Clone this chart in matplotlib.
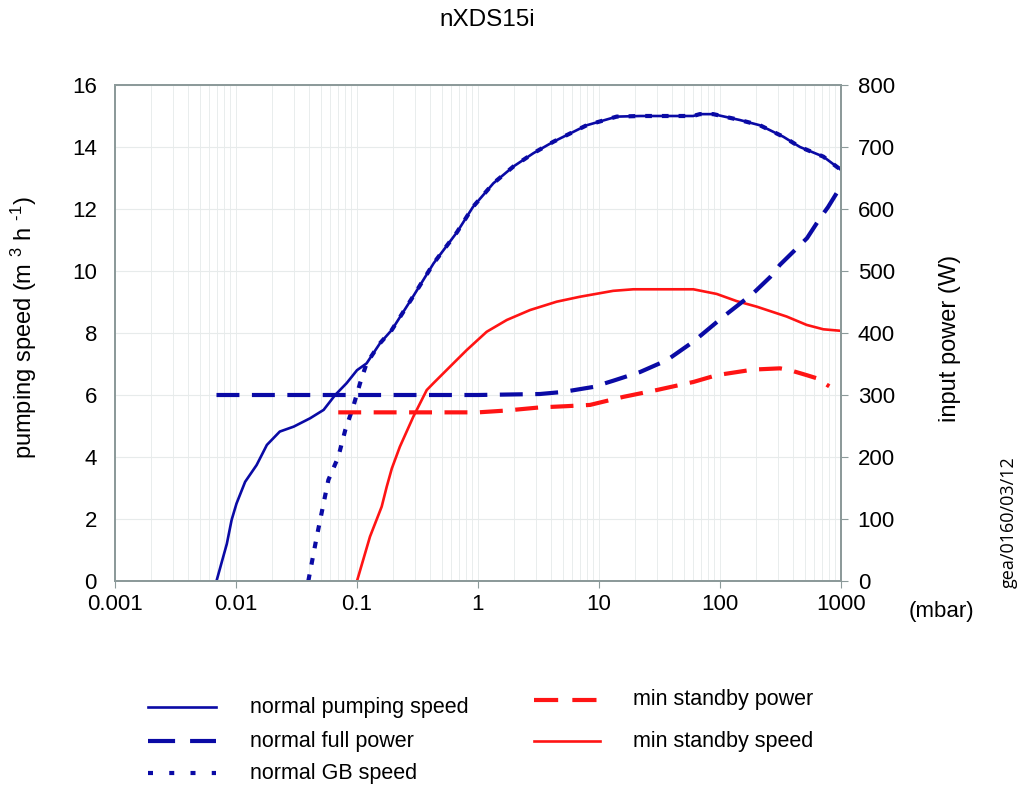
import numpy as np
import matplotlib
matplotlib.use('Agg')
import matplotlib.pyplot as plt

plt.rcParams['font.family'] = ['Liberation Sans', 'DejaVu Sans']
plt.rcParams['mathtext.fontset'] = 'custom'
plt.rcParams['mathtext.rm'] = 'Liberation Sans'
plt.rcParams['mathtext.it'] = 'Liberation Sans'

# Данные (давление в mbar)
p_speed = [0.0069, 0.0084, 0.0092, 0.0101, 0.0119, 0.0148, 0.018, 0.023, 0.03, 0.041,
           0.053, 0.066, 0.082, 0.1, 0.12, 0.155, 0.194, 0.29, 0.43, 0.67, 0.91, 1.34,
           1.96, 2.87, 4.2, 7.9, 14, 22, 60, 68, 88, 146, 214, 334, 458, 714, 1000]
normal_speed = [0, 1.2, 1.97, 2.5, 3.2, 3.74, 4.39, 4.82, 4.98, 5.25,
                5.52, 6.0, 6.38, 6.8, 7.02, 7.67, 8.1, 9.17, 10.25, 11.25, 12.07, 12.83,
                13.37, 13.8, 14.17, 14.7, 14.98, 15.0, 15.0, 15.06, 15.06, 14.87, 14.7, 14.33, 14.0, 13.69, 13.26]

p_gb = [0.0396, 0.0465, 0.058, 0.07, 0.08, 0.093, 0.106, 0.12, 0.155, 0.194, 0.29, 0.43,
        0.67, 0.91, 1.34, 1.96, 2.87, 4.2, 7.9, 14, 22, 60, 68, 88, 146, 214, 334, 458, 714, 1000]
gb_speed = [0, 1.43, 3.26, 4.0, 4.87, 5.62, 6.38, 7.02, 7.67, 8.1, 9.17, 10.25,
            11.25, 12.07, 12.83, 13.37, 13.8, 14.17, 14.7, 14.98, 15.0, 15.0, 15.06, 15.06,
            14.87, 14.7, 14.33, 14.0, 13.69, 13.26]

p_full = [0.0069, 1.0, 3.25, 5.07, 8.97, 13.1, 21.8, 36.3, 60.2, 106, 188, 259, 313, 433, 524, 670, 781, 1000]
full_power = [300, 300, 301.6, 305, 313, 323, 337, 356, 386, 426, 464, 490, 510, 537, 553, 585, 603, 637]

p_sb_power = [0.07, 0.5, 1.0, 1.73, 3.25, 5.41, 8.43, 15.9, 30, 60.2, 94, 188, 313, 379, 521, 630, 800]
sb_power = [272, 272, 272, 275, 280, 282, 284, 297, 308, 321, 332, 341, 343, 340, 332, 327, 314]

p_sb_speed = [0.1, 0.128, 0.16, 0.176, 0.194, 0.226, 0.292, 0.377, 0.428, 0.625, 0.807, 1.18,
              1.73, 2.69, 4.47, 6.97, 13.1, 19.2, 60.2, 93.9, 137, 201, 356, 521, 714, 1000]
sb_speed = [0, 1.43, 2.4, 3.04, 3.63, 4.33, 5.3, 6.16, 6.38, 7.02, 7.45, 8.04,
            8.42, 8.74, 9.01, 9.17, 9.36, 9.41, 9.41, 9.26, 9.03, 8.85, 8.53, 8.26, 8.12, 8.07]

x_ticks = [0.001, 0.01, 0.1, 1, 10, 100, 1000]
x_labels = ['0.001', '0.01', '0.1', '1', '10', '100', '1000']

blue = '#0a0aa5'
red = '#ff1414'
gray = '#8c9a9a'

W, H = 1018, 788
fig = plt.figure(figsize=(W / 100, H / 100), dpi=100)
ax = fig.add_axes([115 / W, 1 - 581 / H, 726 / W, 496 / H])
ax2 = ax.twinx()

# Стили линий
st_speed = dict(color=blue, lw=1.9, ls='-')
st_full = dict(color=blue, lw=3.0, ls=(0, (5.5, 3.0)))
st_gb = dict(color=blue, lw=3.0, ls=(0, (1.6, 2.4)))
st_sbp = dict(color=red, lw=3.0, ls=(0, (5.5, 3.0)))
st_sbs = dict(color=red, lw=1.9, ls='-')

ax.plot(p_speed, normal_speed, **st_speed)
ax.plot(p_gb, gb_speed, **st_gb)
ax.plot(p_sb_speed, sb_speed, **st_sbs)
ax2.plot(p_full, full_power, **st_full)
ax2.plot(p_sb_power, sb_power, **st_sbp)

ax.set_xscale('log')
ax.set_xlim(0.001, 1000)
ax.set_ylim(0, 16)
ax.set_yticks(range(0, 17, 2))
ax2.set_ylim(0, 800)
ax2.set_yticks(range(0, 801, 100))
ax.set_xticks(x_ticks)
ax.set_xticklabels(x_labels)

ax.grid(which='both', axis='x', color='#e9eded', lw=0.7)
ax.grid(which='major', axis='y', color='#e7ebeb', lw=0.8)
ax.set_axisbelow(True)

for a in (ax, ax2):
    for s in a.spines.values():
        s.set_color(gray)
        s.set_linewidth(1.3)

ax.tick_params(axis='x', which='major', length=5, color=gray, labelsize=16, pad=4)
ax.tick_params(axis='x', which='minor', length=0)
ax.tick_params(axis='y', length=0, labelsize=16, pad=13)
ax2.tick_params(axis='y', length=5, color=gray, labelsize=16, pad=7)

fig.text(487 / W, 1 - 20 / H, 'nXDS15i', ha='center', va='center', fontsize=17.5)
fig.text(24 / W, 1 - 328 / H, r'pumping speed (m $^{3}$ h $^{\text{-1}}$)', rotation=90,
         ha='center', va='center', fontsize=17)
fig.text(950 / W, 1 - 338 / H, 'input power (W)', rotation=90,
         ha='center', va='center', fontsize=17)
fig.text(941 / W, 1 - 612 / H, '(mbar)', ha='center', va='center', fontsize=16)
fig.text(1009 / W, 1 - 522 / H, 'gea/0160/03/12', rotation=90, ha='center', va='center',
         fontsize=13, family='Open Sans')

# Легенда вручную
lg = fig.add_axes([0, 0, 1, 1])
lg.set_xlim(0, W)
lg.set_ylim(H, 0)
lg.axis('off')
legend_left = [('normal pumping speed', dict(st_speed), 707),
               ('normal full power', dict(st_full, ls=(0, (6.5, 3.6))), 741),
               ('normal GB speed', dict(st_gb, ls=(0, (1.2, 3.9))), 773)]
legend_right = [('min standby power', dict(st_sbp, ls=(0, (5.8, 3.4))), 700),
                ('min standby speed', dict(st_sbs), 741)]
for label, st, yy in legend_left:
    lg.plot([148, 216], [yy, yy], **st)
    lg.text(250, yy, label, va='center', ha='left', fontsize=15.5)
for label, st, yy in legend_right:
    lg.plot([534, 600], [yy, yy], **st)
    lg.text(633, yy, label, va='center', ha='left', fontsize=15.5)

fig.savefig('out.png', dpi=100)
